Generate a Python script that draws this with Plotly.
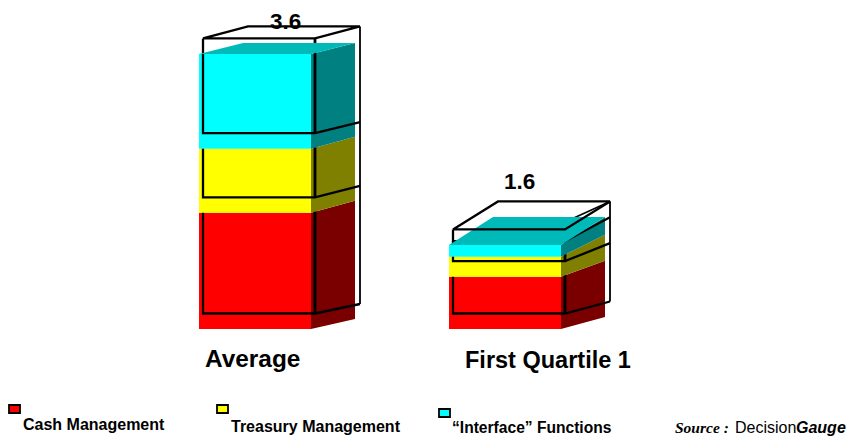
import plotly.graph_objects as go

# ---- data ----
categories = ["Average", "First Quartile 1"]
total_labels = ["3.6", "1.6"]
series_names = ["Cash Management", "Treasury Management", "\u201cInterface\u201d Functions"]
cash_management = [1.52, 0.685]
treasury_management = [0.84, 0.262]
interface_functions = [1.24, 0.153]

# ---- styling / geometry ----
W, H = 853, 436
PX_PER_UNIT = 76.4
BASE_PX = 329            # pixel row of value 0
BAR_LEFT = [199, 449]
BAR_W = 112
DX = 44
WIRE_DX = 45
WIRE_SHIFT_X = 4
WIRE_SHIFT_Y = 15.5
# rise of the back edge (px) at each stack level
FACE_RISE = [[10, 12, 12, 11], [12, 16, 22, 28]]
WIRE_RISE = [[9.5, 11.5, 11, 12], [12, 18, 24, 28]]
FRONT = ["#ff0000", "#ffff00", "#00ffff"]
SIDE = ["#7a0000", "#808000", "#008080"]
TOP = "#00baba"
FONT = "Liberation Sans, Arial, sans-serif"


def u(px):
    return px / PX_PER_UNIT


fig = go.Figure()


def poly(xs, ys, color):
    fig.add_trace(go.Scatter(x=xs + xs[:1], y=ys + ys[:1], mode="lines", fill="toself",
                             fillcolor=color, line=dict(width=0), hoverinfo="skip", showlegend=False))


def wire(xs, ys, width=2.3):
    fig.add_trace(go.Scatter(x=xs, y=ys, mode="lines", line=dict(color="black", width=width),
                             hoverinfo="skip", showlegend=False))


series = [cash_management, treasury_management, interface_functions]
for b in range(len(categories)):
    levels = [0.0]
    for s in series:
        levels.append(levels[-1] + s[b])
    x0, x1 = BAR_LEFT[b], BAR_LEFT[b] + BAR_W
    wx0, wx1 = x0 + WIRE_SHIFT_X, x1 + WIRE_SHIFT_X
    wy = [v + u(WIRE_SHIFT_Y) for v in levels]
    wb = WIRE_RISE[b]
    fr = FACE_RISE[b]
    # back vertical of the wire box
    wire([wx1 + WIRE_DX, wx1 + WIRE_DX], [wy[0] + u(wb[0]), wy[3] + u(wb[3])], 1.8)
    for i in range(3):
        poly([x0, x1, x1, x0], [levels[i], levels[i], levels[i + 1], levels[i + 1]], FRONT[i])
        poly([x1, x1 + DX, x1 + DX, x1],
             [levels[i], levels[i] + u(fr[i]), levels[i + 1] + u(fr[i + 1]), levels[i + 1]], SIDE[i])
        # wire box of this segment: floor line, floor diagonal and two uprights
        wire([wx0, wx0, wx1, wx1 + WIRE_DX], [wy[i + 1], wy[i], wy[i], wy[i] + u(wb[i])])
        wire([wx1, wx1], [wy[i], wy[i + 1]], 2.8)
    if b == 1:
        wire([wx1, wx1 + WIRE_DX], [wy[3] + u(7.5), wy[3] + u(wb[3])], 1.6)
    # coloured top face
    poly([x0, x0 + DX, x1 + DX, x1],
         [levels[3], levels[3] + u(fr[3]), levels[3] + u(fr[3]), levels[3]], TOP)
    # wire lid
    wire([wx0, wx1, wx1 + WIRE_DX, wx0 + WIRE_DX, wx0],
         [wy[3], wy[3], wy[3] + u(wb[3]), wy[3] + u(wb[3]), wy[3]])


def ypx(px):
    return (BASE_PX - px) / PX_PER_UNIT


def label(x, y_px, text, size, anchor="left", family=FONT):
    fig.add_annotation(x=x, y=ypx(y_px), text=text, showarrow=False, xanchor=anchor, yanchor="middle",
                       xshift=-2 if anchor == "left" else 0, font=dict(family=family, size=size, color="black"))


label(285.5, 21, "<b>%s</b>" % total_labels[0], 22.5, "center")
label(519.5, 181, "<b>%s</b>" % total_labels[1], 22.5, "center")
label(205, 358, "<b>%s</b>" % categories[0], 24.4)
label(465, 360, "<b>%s</b>" % categories[1], 23.5)

legend_x = [(9, 20), (217, 228), (439, 450)]
legend_y = [(405, 413), (405, 413), (409, 417)]
legend_text_x = [23, 231, 452]
legend_text_y = [424, 426, 427.5]
legend_size = [16, 16, 15.6]
for i in range(3):
    fig.add_shape(type="rect", x0=legend_x[i][0], x1=legend_x[i][1], y0=ypx(legend_y[i][0]), y1=ypx(legend_y[i][1]),
                  fillcolor=FRONT[i], line=dict(color="black", width=1.8))
    label(legend_text_x[i], legend_text_y[i], "<b>%s</b>" % series_names[i], legend_size[i])

label(675, 427, "<b><i>Source :</i></b>", 15.5, family="Liberation Serif, Times New Roman, serif")
label(735, 427, "Decision", 16)
label(796, 427, "<b><i>Gauge</i></b>", 16)

fig.update_layout(
    width=W, height=H, margin=dict(l=0, r=0, t=0, b=0),
    paper_bgcolor="white", plot_bgcolor="white", showlegend=False,
    xaxis=dict(range=[0, W], visible=False, fixedrange=True),
    yaxis=dict(range=[ypx(H), ypx(0)], visible=False, fixedrange=True),
)

fig.write_html("out.html", post_script="document.body.style.margin='0';document.documentElement.style.overflow='hidden';",
               config={"displayModeBar": False})
